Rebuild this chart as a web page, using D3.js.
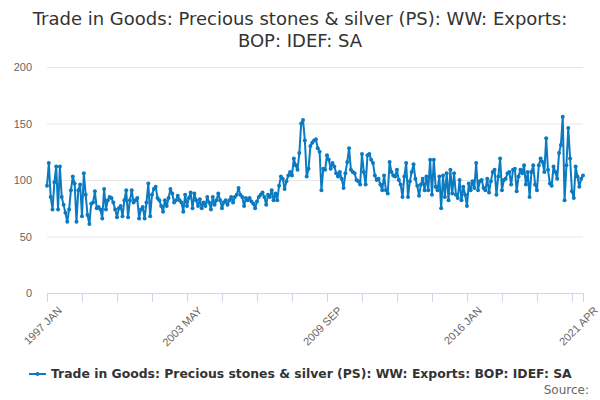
<!DOCTYPE html>
<html lang="en">
<head>
<meta charset="UTF-8">
<title>Trade in Goods: Precious stones & silver</title>
<style>
  * { margin: 0; padding: 0; box-sizing: border-box; }
  body { background: #ffffff; font-family: "DejaVu Sans", sans-serif; overflow: hidden; }
  svg { display: block; }
  .grid line { stroke: #e6e6e6; }
  .grid path { display: none; }
  .y-axis path, .y-axis line { display: none; }
  .y-axis text { fill: #666666; font-size: 11px; }
  .x-axis path, .x-axis line { stroke: #ccd6eb; }
  .x-axis text { fill: #666666; font-size: 11px; }
</style>
</head>
<body>
<svg width="600" height="400"></svg>
<script src="https://d3js.org/d3.v7.min.js"></script>
<script>
const titleLines = ["Trade in Goods: Precious stones & silver (PS): WW: Exports:", "BOP: IDEF: SA"];
const seriesName = "Trade in Goods: Precious stones & silver (PS): WW: Exports: BOP: IDEF: SA";
const monthNames = ["JAN", "FEB", "MAR", "APR", "MAY", "JUN", "JUL", "AUG", "SEP", "OCT", "NOV", "DEC"];
const startYear = 1997;
const yTicks = [0, 50, 100, 150, 200];
const labelEvery = 4;   // every 4th tick gets a label

// monthly values, 1997 JAN .. 2021 APR
const values1997 = [95,115,85,74,98,112,74,112,85,78,71,63,74,91,103,97,63,91,96,68,106,87,69,61,79,80,90,75,76,74,66,92,74,82,85,84];
const values2000 = [80,74,67,75,77,68,82,91,67,82,91,80,82,84,66,74,76,66,80,97,68,87,92,94,84,82,77,72,82,77,84,92,88,80,82,86,82];
const values2003 = [80,72,87,77,84,89,75,88,82,77,83,75,80,77,85,80,74,85,78,82,88,82,75,80,82,78,82,85,80,85,87,93,87,85,77,84,82];
const values2006 = [84,81,79,75,81,85,87,89,85,78,87,85,91,82,88,82,95,103,101,92,99,104,107,104,119,113,109,124,150,153,135,103,110,130,133,135];
const values2009 = [136,128,125,91,110,109,122,118,110,115,112,106,103,107,101,93,106,116,128,109,107,106,100,99,96,123,107,96,122,123,118,115,104,100,101,96,91,104];
const values2012 = [91,88,116,107,104,103,109,100,96,85,103,115,85,99,107,114,101,95,86,96,101,91,103,91,118,87,118,94,91,103,75,104,85,106,82,109,88];
const values2015 = [106,87,84,100,82,94,87,77,97,91,99,93,115,91,99,100,93,91,101,89,99,107,109,87,103,119,91,100,101,106,107,96,109,110,90,103];
const values2018 = [109,106,113,96,107,85,107,113,96,91,113,119,116,107,137,109,97,95,112,107,101,124,131,156,82,113,146,119,90,84,112,103,94,101,104];

const values = [].concat(values1997, values2000, values2003, values2006, values2009, values2012, values2015, values2018);
const data = values.map((v, i) => ({ i, v }));
const last = values.length - 1;

function monthLabel(i) {
  return (startYear + Math.floor(i / 12)) + " " + monthNames[i % 12];
}

const svg = d3.select("svg");
const margin = { left: 47, right: 17, top: 67, bottom: 107 };
const width = 600, height = 400;

const x = d3.scaleLinear().domain([0, last]).range([margin.left, width - margin.right]);
const y = d3.scaleLinear().domain([0, 200]).range([height - margin.bottom, margin.top]);

// title
svg.append("text")
  .attr("x", 300).attr("y", 25)
  .attr("text-anchor", "middle")
  .attr("fill", "#333333")
  .style("font-size", "18px")
  .selectAll("tspan").data(titleLines).enter().append("tspan")
  .attr("x", 300).attr("dy", (d, i) => i ? 22 : 0)
  .text(d => d);

// grid + y labels
svg.append("g").attr("class", "grid")
  .attr("transform", `translate(${margin.left},0)`)
  .call(d3.axisLeft(y).tickValues(yTicks.slice(1)).tickSize(-(width - margin.left - margin.right)).tickFormat(""));

svg.append("g").attr("class", "y-axis")
  .attr("transform", `translate(${margin.left - 15},0)`)
  .call(d3.axisLeft(y).tickValues(yTicks).tickSize(0).tickPadding(0))
  .selectAll("text").attr("dy", "0.35em");

// x axis: a tick every 19 months plus one at the last month
const xTickVals = d3.range(0, last, 19).concat([last]);
const xLabelled = new Set(xTickVals.filter((d, k) => k % labelEvery === 0).concat([last]));
const xAxis = svg.append("g").attr("class", "x-axis")
  .attr("transform", `translate(0,${y(0)})`)
  .call(d3.axisBottom(x).tickValues(xTickVals).tickSize(9).tickSizeOuter(0)
    .tickFormat(d => xLabelled.has(d) ? monthLabel(d) : ""));
xAxis.selectAll("text")
  .attr("text-anchor", "end")
  .attr("transform", "translate(4,7) rotate(-45)")
  .attr("dy", "0.35em");

// series
const color = "#0a7bc2";
const line = d3.line().x(d => x(d.i)).y(d => y(d.v));
svg.append("path").datum(data)
  .attr("fill", "none")
  .attr("stroke", color)
  .attr("stroke-width", 2)
  .attr("stroke-linejoin", "round")
  .attr("d", line);

svg.append("g").selectAll("circle")
  .data(data).enter().append("circle")
  .attr("cx", d => x(d.i)).attr("cy", d => y(d.v))
  .attr("r", 2)
  .attr("fill", color);

// legend
const legend = svg.append("g").attr("transform", "translate(29,374)");
legend.append("line").attr("x1", 0).attr("x2", 17).attr("stroke", color).attr("stroke-width", 2);
legend.append("circle").attr("cx", 8.5).attr("r", 2).attr("fill", color);
legend.append("text").attr("x", 22).attr("dy", "0.35em")
  .attr("fill", "#333333")
  .style("font-size", "12.4px").style("font-weight", "bold")
  .text(seriesName);

svg.append("text")
  .attr("x", 589).attr("y", 394)
  .attr("text-anchor", "end")
  .attr("fill", "#666666")
  .style("font-size", "12px")
  .text("Source:");
</script>
</body>
</html>
